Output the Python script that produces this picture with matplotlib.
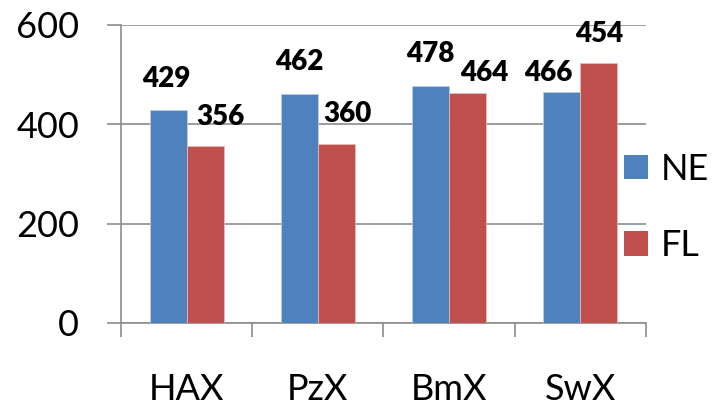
import matplotlib.pyplot as plt
import numpy as np

categories = ['HAX', 'PzX', 'BmX', 'SwX']
ne_vals = [429, 462, 478, 466]
fl_vals = [356, 360, 464, 523]
ne_labels = ['429', '462', '478', '466']
fl_labels = ['356', '360', '464', '454']

# label nudges (points), as the labels were moved by hand in the original
ne_off = [(-1, 22), (0, 23), (0, 23), (-10, 13)]
fl_off = [(11, 21), (8, 22), (12, 14), (0, 21)]

plt.rcParams['font.family'] = ['Lato', 'DejaVu Sans']
blue = '#4F81BD'
red = '#C0504D'
grey = '#8C8C8C'

fig = plt.figure(figsize=(7.16, 4.07), dpi=100)
ax = fig.add_axes([0.169, 0.2064, 0.733, 0.7322])

x = np.arange(len(categories))
w = 0.282
b1 = ax.bar(x - w / 2, ne_vals, w, color=blue, edgecolor='#B9CDE5', linewidth=0.6, zorder=3, label='NE')
b2 = ax.bar(x + w / 2, fl_vals, w, color=red, edgecolor='#E6B9B8', linewidth=0.6, zorder=3, label='FL')

for rect, txt, off in zip(b1, ne_labels, ne_off):
    ax.annotate(txt, (rect.get_x() + rect.get_width() / 2, rect.get_height()),
                xytext=off, textcoords='offset points', ha='center', va='center',
                fontsize=20, fontweight='heavy', zorder=5)
for rect, txt, off in zip(b2, fl_labels, fl_off):
    ax.annotate(txt, (rect.get_x() + rect.get_width() / 2, rect.get_height()),
                xytext=off, textcoords='offset points', ha='center', va='center',
                fontsize=20, fontweight='heavy', zorder=5)

ax.set_xlim(-0.5, 3.5)
ax.set_ylim(0, 600)
ax.set_yticks([0, 200, 400, 600])
ax.yaxis.grid(True, color=grey, linewidth=1.2, zorder=0)
ax.set_axisbelow(True)

ax.set_xticks(np.arange(-0.5, 4, 1))
ax.set_xticklabels([])
ax.set_xticks(x, minor=True)
ax.set_xticklabels(categories, minor=True, fontsize=26)
ax.tick_params(axis='x', which='minor', length=0, pad=36)
ax.tick_params(axis='x', which='major', length=10, width=1.2, color=grey)
ax.tick_params(axis='y', length=10, width=1.2, color=grey, labelsize=26, pad=20)

for s in ['top', 'right']:
    ax.spines[s].set_visible(False)
for s in ['left', 'bottom']:
    ax.spines[s].set_color(grey)
    ax.spines[s].set_linewidth(1.2)

leg = fig.legend(loc='center left', bbox_to_anchor=(0.872, 0.49), frameon=False,
                 fontsize=26, handlelength=0.66, handleheight=0.66,
                 handletextpad=0.35, labelspacing=1.2, borderpad=0, borderaxespad=0)
for h in leg.legend_handles:
    h.set_linewidth(0)

fig.savefig('out.png', dpi=100)
